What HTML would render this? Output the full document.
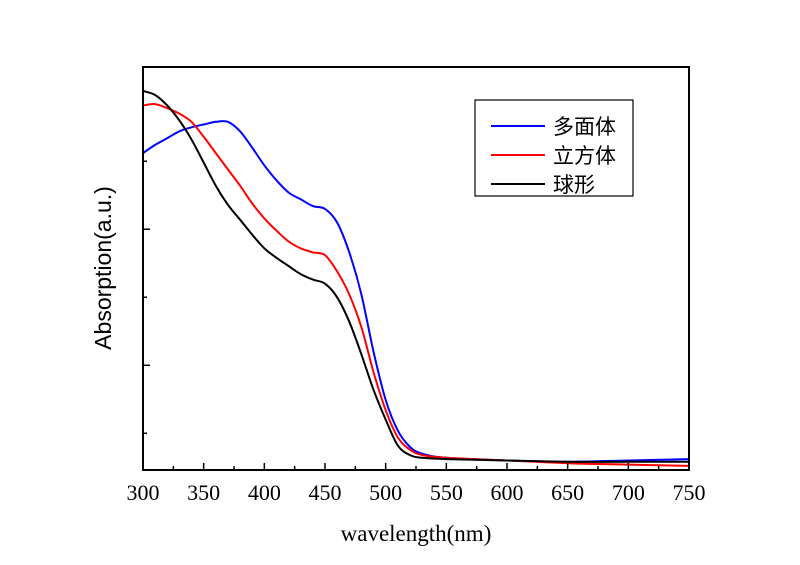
<!DOCTYPE html>
<html><head><meta charset="utf-8"><style>
body{margin:0;background:#fff;}
svg{display:block;}
</style></head><body>
<svg id="chart" width="800" height="565" xmlns="http://www.w3.org/2000/svg">
<rect width="800" height="565" fill="#fff"/>
<g id="plot"></g>
</svg>
<script>
const wavelengths=[300,310,320,330,340,350,360,370,380,390,400,410,420,430,440,450,460,470,480,490,500,510,520,530,550,600,650,700,750];
const blueVals=[2.06,2.12,2.17,2.22,2.25,2.27,2.29,2.29,2.22,2.10,1.97,1.86,1.77,1.72,1.67,1.65,1.55,1.33,1.02,0.60,0.245,0.02,-0.10,-0.15,-0.18,-0.2,-0.21,-0.2,-0.19];
const redVals=[2.41,2.42,2.39,2.35,2.29,2.18,2.06,1.94,1.82,1.69,1.58,1.49,1.41,1.36,1.33,1.31,1.19,1.02,0.78,0.45,0.17,-0.03,-0.12,-0.16,-0.18,-0.20,-0.22,-0.23,-0.24];
const blackVals=[2.517,2.487,2.41,2.30,2.16,1.99,1.82,1.68,1.57,1.46,1.36,1.29,1.23,1.17,1.13,1.10,1.00,0.82,0.58,0.32,0.10,-0.09,-0.16,-0.18,-0.19,-0.2,-0.21,-0.21,-0.21];
const xTicks=[300,350,400,450,500,550,600,650,700,750];
const yTicks=[0,0.5,1,1.5,2];
const seriesNames=["多面体","立方体","球形"];
const seriesColors=["#0000ff","#ff0000","#000000"];

const L=143,R=689,T=67,B=470;
const xMin=300,xMax=750,yMin=-0.27,yMax=2.693;
const xs=v=>L+(v-xMin)/(xMax-xMin)*(R-L);
const ys=v=>B-(v-yMin)/(yMax-yMin)*(B-T);
const NS="http://www.w3.org/2000/svg";
const plot=document.getElementById('plot');
function mk(tag,attrs,parent){const e=document.createElementNS(NS,tag);for(const k in attrs)e.setAttribute(k,attrs[k]);(parent||plot).appendChild(e);return e;}

// series (Catmull-Rom smoothing)
[blueVals,redVals,blackVals].forEach((vals,i)=>{
  const pts=vals.map((v,j)=>[xs(wavelengths[j]),ys(v)]);
  let d='M'+pts[0][0].toFixed(1)+','+pts[0][1].toFixed(1);
  for(let j=0;j<pts.length-1;j++){
    const p0=pts[Math.max(0,j-1)],p1=pts[j],p2=pts[j+1],p3=pts[Math.min(pts.length-1,j+2)];
    const c1=[p1[0]+(p2[0]-p0[0])/6,p1[1]+(p2[1]-p0[1])/6];
    const c2=[p2[0]-(p3[0]-p1[0])/6,p2[1]-(p3[1]-p1[1])/6];
    d+='C'+c1[0].toFixed(1)+','+c1[1].toFixed(1)+' '+c2[0].toFixed(1)+','+c2[1].toFixed(1)+' '+p2[0].toFixed(1)+','+p2[1].toFixed(1);
  }
  const p=mk('path',{d:d,fill:'none',stroke:seriesColors[i],'stroke-width':2,'stroke-linejoin':'round'});
  
  
});

// frame
const fr=mk('rect',{x:L,y:T,width:R-L,height:B-T,fill:'none',stroke:'#000','stroke-width':2});



// x ticks
xTicks.forEach((t,i)=>{
  const x=xs(t);
  const tk=mk('line',{x1:x,x2:x,y1:B,y2:B-7,stroke:'#000','stroke-width':1.5});
  
  
  if(i<xTicks.length-1){const xm=xs(t+25);
    const m=mk('line',{x1:xm,x2:xm,y1:B,y2:B-4,stroke:'#000','stroke-width':1.5});
    
    }
  const lb=mk('text',{x:x,y:500,'text-anchor':'middle','font-family':'Liberation Serif, serif','font-size':22});
  lb.textContent=t;
  
  
});
// y ticks
yTicks.forEach((t,i)=>{
  const y=ys(t);
  const len=(i%2===1)?7:4;
  const tk=mk('line',{x1:L,x2:L+len,y1:y,y2:y,stroke:'#000','stroke-width':1.5});
  
  
});

// axis titles
const xt=mk('text',{x:416,y:541,'text-anchor':'middle','font-family':'Liberation Serif, serif','font-size':23});
xt.textContent='wavelength(nm)';


const yt=mk('text',{x:0,y:0,'text-anchor':'middle','font-family':'Liberation Sans, sans-serif','font-size':23,transform:'translate(111,268) rotate(-90)'});
yt.textContent='Absorption(a.u.)';



// legend
const lg=mk('g',{});


const lbx=mk('rect',{x:475,y:100,width:158,height:96,fill:'#fff',stroke:'#000','stroke-width':1.2},lg);


seriesNames.forEach((n,i)=>{
  const y=126+i*29;
  const ln=mk('line',{x1:491,x2:545,y1:y,y2:y,stroke:seriesColors[i],'stroke-width':2},lg);
  
  
  const tx=mk('text',{x:553,y:y+8,'font-family':'Liberation Sans, Noto Sans CJK SC, sans-serif','font-size':21},lg);
  tx.textContent=n;
  
  
});
</script>
</body></html>
